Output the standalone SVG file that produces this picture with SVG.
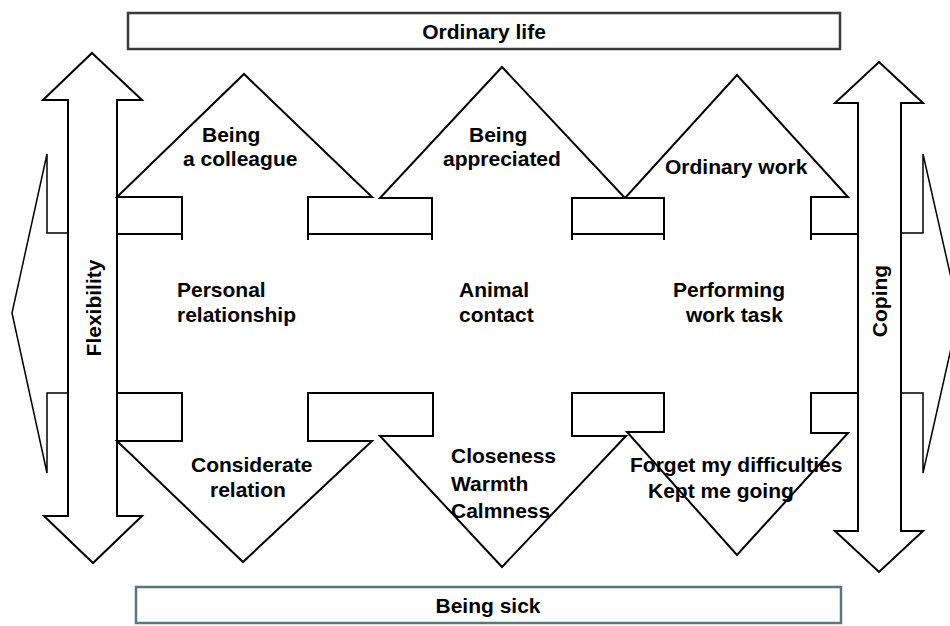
<svg xmlns="http://www.w3.org/2000/svg" width="950" height="626" viewBox="0 0 950 626">
<style>
.ln{fill:none;stroke:#000;stroke-width:2;stroke-linejoin:miter}
.thin{fill:none;stroke:#000;stroke-width:1.5}
.dbl{fill:#fff;stroke:#000;stroke-width:2}
.t{font-family:"Liberation Sans",Arial,sans-serif;font-weight:bold;font-size:21px;fill:#000}
.c{text-anchor:middle}
</style>
<rect width="950" height="626" fill="#fff"/>
<g id="side-arrows">
<polyline id="left-big-arrow" class="thin" points="68,233 47,233 47,154 12,313 47,473 47,393 68,393"/>
<polyline id="right-big-arrow" class="thin" points="901,233 923,233 923,154 959,313 923,473 923,393 901,393"/>
</g>
<g id="ordinary-life">
<rect x="128" y="13" width="712" height="36" fill="#fff" stroke="#3a3a3a" stroke-width="2.5"/>
<text class="t c" x="484" y="39">Ordinary life</text>
</g>
<g id="being-sick">
<rect x="136" y="587" width="705" height="36" fill="#fff" stroke="#5a7878" stroke-width="2.5"/>
<text class="t c" x="488" y="613">Being sick</text>
</g>
<g id="flexibility">
<polygon class="dbl" points="92,53 142,100 117,100 117,516 142,516 93,563 44,516 68,516 68,100 43,100"/>
<text class="t c" transform="translate(101,308) rotate(-90)">Flexibility</text>
</g>
<g id="coping">
<polygon class="dbl" points="879,62 923,103 901,103 901,531 923,531 879,572 835,531 858,531 858,103 835,103"/>
<text class="t c" transform="translate(887,301) rotate(-90)">Coping</text>
</g>
<g id="being-a-colleague">
<polyline class="ln" points="182,240 182,197 117,197 244,74 372,197 308,197 308,240"/>
<line class="ln" x1="117" y1="234" x2="182" y2="234"/>
<text class="t" x="202" y="142">Being</text>
<text class="t" x="183" y="166">a colleague</text>
</g>
<g id="being-appreciated">
<polyline class="ln" points="432,240 432,198 380,198 502,67 625,198 572,198 572,240"/>
<line class="ln" x1="308" y1="234" x2="433" y2="234"/>
<text class="t" x="469" y="142">Being</text>
<text class="t" x="443" y="166">appreciated</text>
</g>
<g id="ordinary-work">
<polyline class="ln" points="664,240 664,198 625,198 737,75 848,197 811,197 811,240"/>
<line class="ln" x1="572" y1="234" x2="664" y2="234"/>
<line class="ln" x1="811" y1="234" x2="858" y2="234"/>
<text class="t" x="665" y="174">Ordinary work</text>
</g>
<g id="personal-relationship">
<text class="t" x="177" y="297">Personal</text>
<text class="t" x="177" y="322">relationship</text>
</g>
<g id="animal-contact">
<text class="t" x="459" y="297">Animal</text>
<text class="t" x="459" y="322">contact</text>
</g>
<g id="performing-work-task">
<text class="t" x="673" y="297">Performing</text>
<text class="t" x="686" y="322">work task</text>
</g>
<g id="considerate-relation">
<polyline class="ln" points="182,392 182,441 117,441 243,562 372,441 308,441 308,392"/>
<line class="ln" x1="117" y1="393" x2="182" y2="393"/>
<text class="t" x="191" y="472">Considerate</text>
<text class="t" x="210" y="497">relation</text>
</g>
<g id="closeness-warmth-calmness">
<polyline class="ln" points="433,392 433,436 380,436 502,567 626,436 572,436 572,392"/>
<line class="ln" x1="308" y1="393" x2="433" y2="393"/>
<text class="t" x="451" y="463">Closeness</text>
<text class="t" x="451" y="491">Warmth</text>
<text class="t" x="451" y="518">Calmness</text>
</g>
<g id="forget-my-difficulties">
<polyline class="ln" points="664,392 664,432 627,432 737,555 848,433 811,433 811,392"/>
<line class="ln" x1="572" y1="393" x2="664" y2="393"/>
<line class="ln" x1="811" y1="393" x2="858" y2="393"/>
<text class="t" x="630" y="472">Forget my difficulties</text>
<text class="t" x="648" y="498">Kept me going</text>
</g>
</svg>
